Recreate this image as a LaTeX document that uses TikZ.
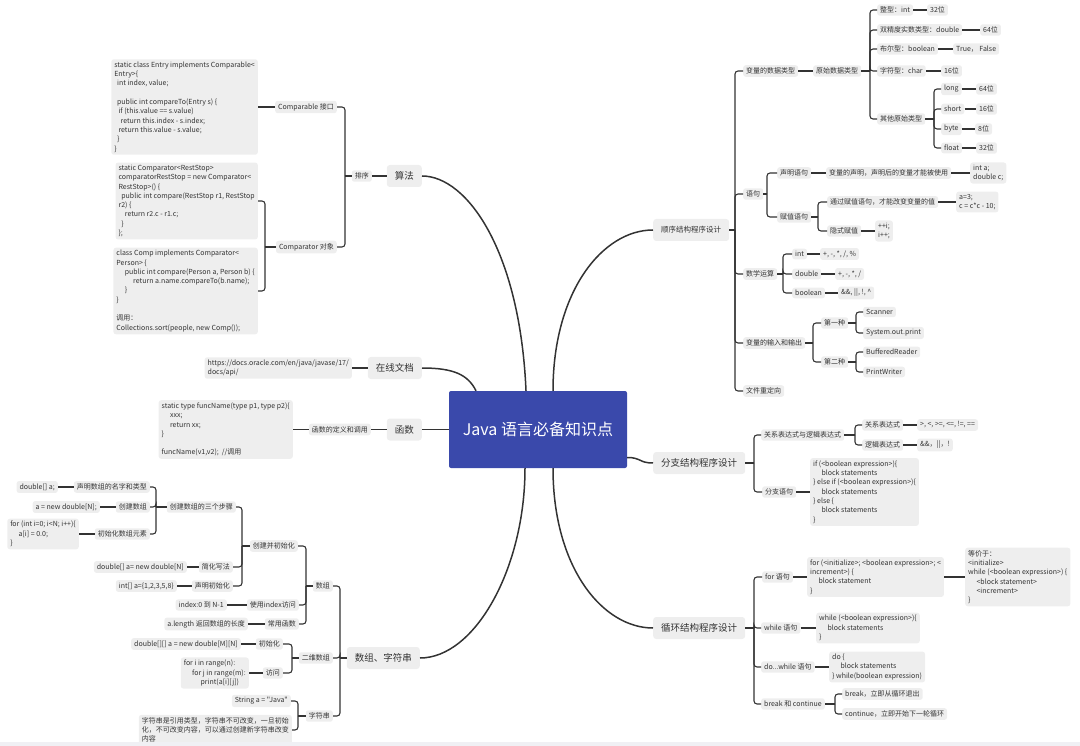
\documentclass[tikz,border=0pt]{standalone}
\usepackage{fontspec}
\setmainfont{Noto Sans CJK SC}
\newfontfamily\plainfont{Noto Sans CJK SC}
\usetikzlibrary{calc}
\definecolor{boxgray}{HTML}{EEEEEE}
\definecolor{txt}{HTML}{333333}
\definecolor{lnc}{HTML}{333333}
\definecolor{jblue}{HTML}{3A49AB}
\definecolor{band}{HTML}{F0F0F4}
\newcommand\myind[1]{\hspace*{#1em}}
\newcommand\rfork[3]{%
  \draw[conn] (#1.east) -- (#2,0 |- #1.east);
  \foreach \c in {#3}{\draw[conn] (#2,0 |- #1.east) |- (\c.west);}}
\newcommand\lfork[3]{%
  \draw[conn] (#1.west) -- (#2,0 |- #1.west);
  \foreach \c in {#3}{\draw[conn] (#2,0 |- #1.west) |- (\c.east);}}
\tikzset{
  box/.style={fill=boxgray, rounded corners=2.5pt, inner xsep=3pt, inner ysep=2.5pt,
    font=\fontsize{7}{9.3}\selectfont, text=txt, align=left},
  big/.style={box, font=\fontsize{9.5}{12}\selectfont, inner xsep=8pt, minimum height=22pt, rounded corners=3pt},
  conn/.style={draw=lnc, line width=1.1pt, rounded corners=3pt},
  main/.style={draw=lnc, line width=1.5pt},
  atR/.style={anchor=west},
  atL/.style={anchor=east}
}
\begin{document}
\begin{tikzpicture}[x=1pt,y=-1pt]
\useasboundingbox (0,0) rectangle (1080,746);

% ---------- centre ----------
\node[fill=jblue, rounded corners=2pt, minimum width=178pt, minimum height=77pt, text=white,
  font=\fontsize{16}{18}\selectfont] (ctr) at (538,429.5) {Java 语言必备知识点};

% ---------- level 1 ----------
\node[big,atR,font=\fontsize{7.5}{9}\selectfont] (sx0) at (653,230) {顺序结构程序设计};
\node[big,atR] (fz0) at (653,463) {分支结构程序设计};
\node[big,atR] (xh0) at (653,628) {循环结构程序设计};
\node[big,atL] (sf) at (422,176) {算法};
\node[big,atL] (zx) at (422,368) {在线文档};
\node[big,atL] (hs) at (422,429.5) {函数};
\node[big,atL] (sz) at (420,658) {数组、字符串};

\draw[main] (sf.east) .. controls +(45,0) and +(-6,-140) .. ([xshift=-12pt]ctr.north);
\draw[main] (zx.east) .. controls +(32,0) and +(-8,-16) .. ([xshift=-62pt]ctr.north);
\draw[main] (hs.east) -- (ctr.west);
\draw[main] (sx0.west) .. controls +(-50,0) and +(0,-100) .. ([xshift=15pt]ctr.north);
\draw[main] ([yshift=-28pt]ctr.east) .. controls +(14,0) and +(-14,0) .. (fz0.west);
\draw[main] (xh0.west) .. controls +(-50,0) and +(0,100) .. ([xshift=15pt]ctr.south);
\draw[main] (sz.east) .. controls +(55,0) and +(0,100) .. ([xshift=-13pt]ctr.south);

% ---------- 顺序结构程序设计 ----------
\node[box,atR] (a1) at (743,71) {变量的数据类型};
\node[box,atR] (a2) at (743,194) {语句};
\node[box,atR] (a3) at (743,274) {数学运算};
\node[box,atR] (a4) at (743,343) {变量的输入和输出};
\node[box,atR] (a5) at (743,391) {文件重定向};
\rfork{sx0}{735}{a1,a2,a3,a4,a5}

\node[box,atR] (b1) at (813,71) {原始数据类型};
\draw[conn] (a1.east) -- (b1.west);
\node[box,atR] (c1) at (877,10) {整型：int};
\node[box,atR] (c2) at (877,30) {双精度实数类型：double};
\node[box,atR] (c3) at (877,49) {布尔型：boolean};
\node[box,atR] (c4) at (877,71) {字符型：char};
\node[box,atR] (c5) at (877,119) {其他原始类型};
\rfork{b1}{870}{c1,c2,c3,c4,c5}
\node[box,atR] (d1) at (927,10) {32位};
\node[box,atR] (d2) at (980,30) {64位};
\node[box,atR] (d3) at (953,49) {True， False};
\node[box,atR] (d4) at (941,71) {16位};
\draw[conn] (c1.east) -- (d1.west);
\draw[conn] (c2.east) -- (d2.west);
\draw[conn] (c3.east) -- (d3.west);
\draw[conn] (c4.east) -- (d4.west);
\node[box,atR] (e1) at (941,89) {long};
\node[box,atR] (e2) at (941,109) {short};
\node[box,atR] (e3) at (941,129) {byte};
\node[box,atR] (e4) at (941,148) {float};
\rfork{c5}{934}{e1,e2,e3,e4}
\node[box,atR] (f1) at (976,89) {64位};
\node[box,atR] (f2) at (976,109) {16位};
\node[box,atR] (f3) at (975,129) {8位};
\node[box,atR] (f4) at (976,148) {32位};
\draw[conn] (e1.east) -- (f1.west);
\draw[conn] (e2.east) -- (f2.west);
\draw[conn] (e3.east) -- (f3.west);
\draw[conn] (e4.east) -- (f4.west);

\node[box,atR] (g1) at (777,173) {声明语句};
\node[box,atR] (g2) at (777,217) {赋值语句};
\rfork{a2}{767}{g1,g2}
\node[box,atR] (h1) at (826,173) {变量的声明，声明后的变量才能被使用};
\node[box,atR] (h2) at (970,173) {int a;\\double c;};
\draw[conn] (g1.east) -- (h1.west);
\draw[conn] (h1.east) -- (h2.west);
\node[box,atR] (h3) at (827,202) {通过赋值语句，才能改变变量的值};
\node[box,atR] (h4) at (827,231) {隐式赋值};
\rfork{g2}{818}{h3,h4}
\node[box,atR] (h5) at (956,202) {a=3;\\c = c*c - 10;};
\node[box,atR] (h6) at (875,231) {++i;\\i++;};
\draw[conn] (h3.east) -- (h5.west);
\draw[conn] (h4.east) -- (h6.west);

\node[box,atR] (m1) at (792,254) {int};
\node[box,atR] (m2) at (792,274) {double};
\node[box,atR] (m3) at (792,293) {boolean};
\rfork{a3}{783}{m1,m2,m3}
\node[box,atR] (n1) at (820,254) {+, -, *, /, \%};
\node[box,atR] (n2) at (835,274) {+, -, *, /};
\node[box,atR] (n3) at (838,293) {\&\&, ||, !, \^{}};
\draw[conn] (m1.east) -- (n1.west);
\draw[conn] (m2.east) -- (n2.west);
\draw[conn] (m3.east) -- (n3.west);

\node[box,atR] (p1) at (821,323) {第一种};
\node[box,atR] (p2) at (821,362) {第二种};
\rfork{a4}{813}{p1,p2}
\node[box,atR] (q1) at (863,312) {Scanner};
\node[box,atR] (q2) at (863,333) {System.out.print};
\rfork{p1}{856}{q1,q2}
\node[box,atR] (q3) at (863,352) {BufferedReader};
\node[box,atR] (q4) at (863,372) {PrintWriter};
\rfork{p2}{856}{q3,q4}

% ---------- 分支结构程序设计 ----------
\node[box,atR] (r1) at (761,435) {关系表达式与逻辑表达式};
\node[box,atR] (r2) at (762,492) {分支语句};
\rfork{fz0}{754}{r1,r2}
\node[box,atR] (r3) at (862,425) {关系表达式};
\node[box,atR] (r4) at (862,445) {逻辑表达式};
\rfork{r1}{855}{r3,r4}
\node[box,atR] (r5) at (917,425) {>, <, >=, <=, !=, ==};
\node[box,atR] (r6) at (917,445) {\&\&，||，!};
\draw[conn] (r3.east) -- (r5.west);
\draw[conn] (r4.east) -- (r6.west);
\node[box,atR] (r7) at (810,492) {if (<boolean expression>)\{\\\myind{1.2}block statements\\\} else if (<boolean expression>)\{\\\myind{1.2}block statements\\\} else \{\\\myind{1.2}block statements\\\}};
\draw[conn] (r2.east) -- (r7.west);

% ---------- 循环结构程序设计 ----------
\node[box,atR] (x1) at (762,577) {for 语句};
\node[box,atR] (x2) at (761,628) {while 语句};
\node[box,atR] (x3) at (761,667) {do...while 语句};
\node[box,atR] (x4) at (761,704) {break 和 continue};
\rfork{xh0}{754}{x1,x2,x3,x4}
\node[box,atR] (y1) at (807,577) {for (<initialize>; <boolean expression>; <\\increment>) \{\\\myind{1.2}block statement\\\}};
\node[box,atR] (y2) at (965,577) {等价于：\\<initialize>\\while (<boolean expression>) \{\\\myind{1.2}<block statement>\\\myind{1.2}<increment>\\\}};
\node[box,atR] (y3) at (816,628) {while (<boolean expression>)\{\\\myind{1.2}block statements\\\}};
\node[box,atR] (y4) at (829,667) {do \{\\\myind{1.2}block statements\\\} while(boolean expression)};
\draw[conn] (x1.east) -- (y1.west);
\draw[conn] (y1.east) -- (y2.west);
\draw[conn] (x2.east) -- (y3.west);
\draw[conn] (x3.east) -- (y4.west);
\node[box,atR] (z1) at (842,694) {break，立即从循环退出};
\node[box,atR] (z2) at (842,714) {continue，立即开始下一轮循环};
\rfork{x4}{835}{z1,z2}

% ---------- 算法 ----------
\node[box,atL] (px) at (372,176) {排序};
\draw[conn] (sf.west) -- (px.east);
\node[box,atL] (cp1) at (337,107) {Comparable 接口};
\node[box,atL] (cp2) at (337,247) {Comparator 对象};
\lfork{px}{345}{cp1,cp2}
\node[box,atL] (code1) at (258,107) {static class Entry implements Comparable<\\Entry>\{\\\myind{0.4}int index, value;\\\mbox{}\\\myind{0.4}public int compareTo(Entry s) \{\\\myind{0.6}if (this.value == s.value)\\\myind{0.9}return this.index - s.index;\\\myind{0.6}return this.value - s.value;\\\myind{0.4}\}\\\}};
\draw[conn] (cp1.west) -- (code1.east);
\node[box,atL] (code2) at (258,201) {static Comparator<RestStop>\\comparatorRestStop = new Comparator<\\RestStop>() \{\\\myind{0.4}public int compare(RestStop r1, RestStop\\r2) \{\\\myind{0.9}return r2.c - r1.c;\\\myind{0.4}\}\\\};};
\node[box,atL] (code3) at (258,291) {class Comp implements Comparator<\\Person> \{\\\myind{1.2}public int compare(Person a, Person b) \{\\\myind{2.4}return a.name.compareTo(b.name);\\\myind{1.2}\}\\\}\\\mbox{}\\调用：\\Collections.sort(people, new Comp());};
\lfork{cp2}{265}{code2,code3}

% ---------- 在线文档 / 函数 ----------
\node[box,atL] (url) at (352,368) {https://docs.oracle.com/en/java/javase/17/\\docs/api/};
\draw[conn] (zx.west) -- (url.east);
\node[box,atL] (hsd) at (371,429.5) {函数的定义和调用};
\draw[conn] (hs.west) -- (hsd.east);
\node[box,atL] (hsc) at (293,429.5) {static type funcName(type p1, type p2)\{\\\myind{1.2}xxx;\\\myind{1.2}return xx;\\\}\\\mbox{}\\funcName(v1,v2);\ \ //调用};
\draw[conn] (hsd.west) -- (hsc.east);

% ---------- 数组、字符串 ----------
\node[box,atL] (sz1) at (333,586) {数组};
\node[box,atL] (sz2) at (333,658) {二维数组};
\node[box,atL] (sz3) at (333,716) {字符串};
\lfork{sz}{340}{sz1,sz2,sz3}

\node[box,atL] (cj) at (298,546) {创建并初始化};
\node[box,atL] (idx) at (299,605) {使用index访问};
\node[box,atL] (cyf) at (299,624) {常用函数};
\lfork{sz1}{306}{cj,idx,cyf}
\node[box,atL] (cj3) at (236,507) {创建数组的三个步骤};
\node[box,atL] (jx) at (233,567) {简化写法};
\node[box,atL] (smc) at (233,586) {声明初始化};
\lfork{cj}{242}{cj3,jx,smc}
\node[box,atL] (s1) at (150,487) {声明数组的名字和类型};
\node[box,atL] (s2) at (150,507) {创建数组};
\node[box,atL] (s3) at (150,534) {初始化数组元素};
\lfork{cj3}{156}{s1,s2,s3}
\node[box,atL] (t1) at (58,487) {double[] a;};
\node[box,atL] (t2) at (100,507) {a = new double[N];};
\node[box,atL] (t3) at (79,534) {for (int i=0; i<N; i++)\{\\\myind{1.2}a[i] = 0.0;\\\}};
\draw[conn] (s1.west) -- (t1.east);
\draw[conn] (s2.west) -- (t2.east);
\draw[conn] (s3.west) -- (t3.east);
\node[box,atL] (u1) at (187,567) {double[] a= new double[N]};
\node[box,atL] (u2) at (177,586) {int[] a=\{1,2,3,5,8\}};
\node[box,atL] (u3) at (227,605) {index:0 到 N-1};
\node[box,atL] (u4) at (248,624) {a.length 返回数组的长度};
\draw[conn] (jx.west) -- (u1.east);
\draw[conn] (smc.west) -- (u2.east);
\draw[conn] (idx.west) -- (u3.east);
\draw[conn] (cyf.west) -- (u4.east);

\node[box,atL] (ew1) at (283,644) {初始化};
\node[box,atL] (ew2) at (283,673) {访问};
\lfork{sz2}{292}{ew1,ew2}
\node[box,atL] (v1) at (241,644) {double[][] a = new double[M][N]};
\node[box,atL] (v2) at (249,673) {for i in range(n):\\\myind{1.2}for j in range(m):\\\myind{2.4}print(a[i][j])};
\draw[conn] (ew1.west) -- (v1.east);
\draw[conn] (ew2.west) -- (v2.east);

\node[box,atL] (w1) at (291,701) {{\plainfont String a = "Java"}};
\node[box,atL] (w2) at (292,730) {字符串是引用类型，字符串不可改变，一旦初始\\化，不可改变内容，可以通过创建新字符串改变\\内容};
\lfork{sz3}{298}{w1,w2}

\fill[band] (0,742) rectangle (1080,746);
\end{tikzpicture}
\end{document}
